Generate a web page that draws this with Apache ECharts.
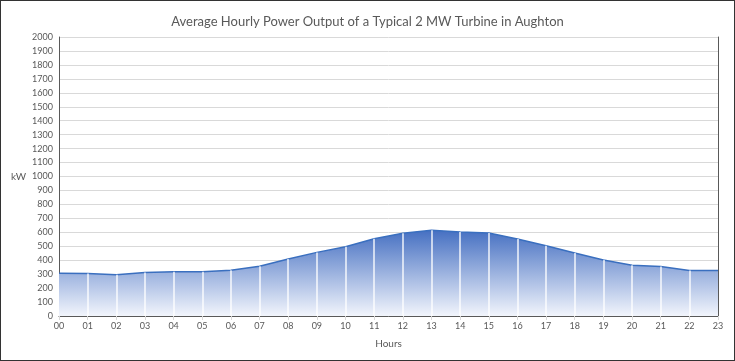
<!DOCTYPE html>
<html><head><meta charset="utf-8">
<script src="https://cdn.jsdelivr.net/npm/echarts@6/dist/echarts.min.js"></script>
<style>
html,body{margin:0;padding:0;background:#fff;}
#c{width:735px;height:361px;box-sizing:border-box;border:1px solid #333;}
</style></head>
<body><div id="c"></div>
<script>
const titleText = 'Average Hourly Power Output of a Typical 2 MW Turbine in Aughton';
const hours = ['00','01','02','03','04','05','06','07','08','09','10','11','12','13','14','15','16','17','18','19','20','21','22','23'];
const powerKW = [306,305,295,312,318,318,328,356,408,456,497,554,593,614,602,595,552,504,452,401,363,354,327,327];
const yTicks = {min:0, max:2000, interval:100};

const dropLines = hours.slice(1, hours.length - 1).map((h, i) =>
  [{coord:[h, 0]}, {coord:[h, powerKW[i + 1]]}]);

const font = 'Lato';
const chart = echarts.init(document.getElementById('c'));
chart.setOption({
  animation:false,
  title:{text:titleText,left:'center',top:9,textStyle:{fontFamily:font,fontSize:13,fontWeight:'normal',color:'#595959'}},
  grid:{left:58,right:16,top:36,bottom:44},
  xAxis:[{type:'category',data:hours,boundaryGap:false,
    name:'Hours',nameLocation:'middle',nameGap:23,nameTextStyle:{fontFamily:font,fontSize:10,color:'#595959'},
    axisLine:{lineStyle:{color:'#d9d9d9'}},axisTick:{show:true,length:4,lineStyle:{color:'#d9d9d9'}},
    axisLabel:{fontFamily:font,fontSize:9,color:'#595959',margin:6},
    splitLine:{show:false}},
   {type:'category',data:hours,boundaryGap:false,position:'top',
    axisLine:{lineStyle:{color:'#595959'}},axisTick:{show:false},axisLabel:{show:false},splitLine:{show:false}}],
  yAxis:[{type:'value',min:yTicks.min,max:yTicks.max,interval:yTicks.interval,
    name:'kW',nameLocation:'middle',nameRotate:0,nameGap:27,nameTextStyle:{fontFamily:font,fontSize:10,color:'#595959'},
    axisLine:{show:true,lineStyle:{color:'#595959'}},axisTick:{show:false},
    axisLabel:{fontFamily:font,fontSize:9,color:'#595959',margin:6,formatter:v=>String(v)},
    splitLine:{lineStyle:{color:'#d9d9d9'}}},
   {type:'value',min:yTicks.min,max:yTicks.max,interval:yTicks.interval,position:'right',
    axisLine:{show:true,lineStyle:{color:'#595959'}},axisTick:{show:false},axisLabel:{show:false},splitLine:{show:false}}],
  series:[{type:'line',data:powerKW,symbol:'none',
    lineStyle:{color:'#3a6fbf',width:1.5},
    areaStyle:{color:new echarts.graphic.LinearGradient(0,0,0,1,[{offset:0,color:'#4670c2'},{offset:1,color:'#f2f5fc'}]),opacity:1},
    markLine:{silent:true,symbol:'none',label:{show:false},animation:false,
      lineStyle:{color:'#ffffff',width:1.5,type:'solid',opacity:0.9},data:dropLines}}]
});
</script></body></html>
